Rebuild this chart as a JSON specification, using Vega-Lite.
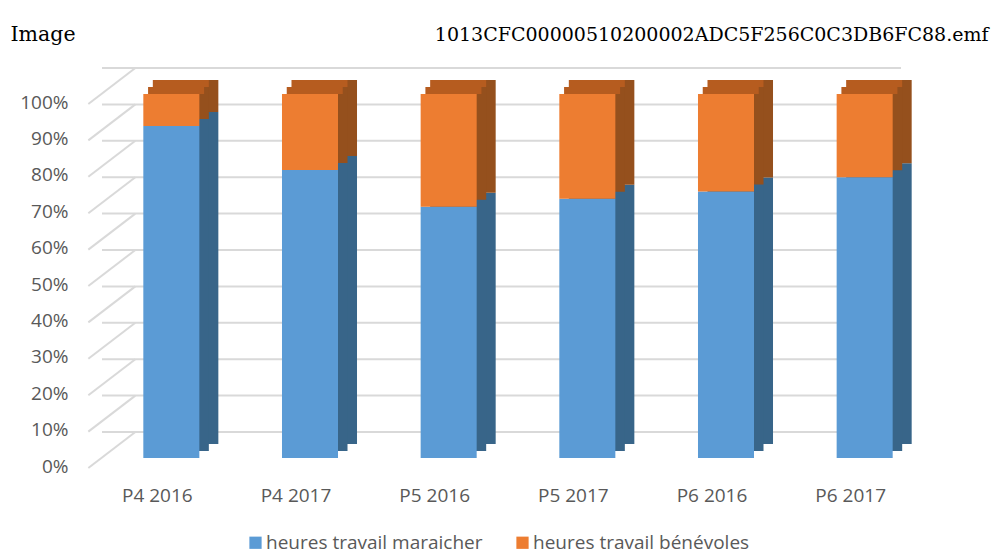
{
  "$schema": "https://vega.github.io/schema/vega-lite/v6.json",
  "width": 832,
  "height": 364,
  "autosize": {"type": "none"},
  "padding": {"left": 102, "top": 94, "right": 61, "bottom": 96},
  "background": "white",
  "config": {
    "view": {"stroke": null},
    "font": "Open Sans",
    "axisY": {"labelOverlap": false, "grid": false, "domain": false, "ticks": false, "tickSize": 0},
    "axisX": {"labelAlign": "center", "labelOverlap": false, "grid": false, "domain": false, "ticks": false, "tickSize": 0}
  },
  "datasets": {
    "bars": [
      {"cat": "P4 2016", "serie": "heures travail maraicher", "v": 0.912, "o": 1},
      {"cat": "P4 2016", "serie": "heures travail bénévoles", "v": 0.088, "o": 2},
      {"cat": "P4 2017", "serie": "heures travail maraicher", "v": 0.791, "o": 1},
      {"cat": "P4 2017", "serie": "heures travail bénévoles", "v": 0.209, "o": 2},
      {"cat": "P5 2016", "serie": "heures travail maraicher", "v": 0.69, "o": 1},
      {"cat": "P5 2016", "serie": "heures travail bénévoles", "v": 0.31, "o": 2},
      {"cat": "P5 2017", "serie": "heures travail maraicher", "v": 0.712, "o": 1},
      {"cat": "P5 2017", "serie": "heures travail bénévoles", "v": 0.288, "o": 2},
      {"cat": "P6 2016", "serie": "heures travail maraicher", "v": 0.732, "o": 1},
      {"cat": "P6 2016", "serie": "heures travail bénévoles", "v": 0.268, "o": 2},
      {"cat": "P6 2017", "serie": "heures travail maraicher", "v": 0.771, "o": 1},
      {"cat": "P6 2017", "serie": "heures travail bénévoles", "v": 0.229, "o": 2}
    ],
    "grid": [
      {"g": 0}, {"g": 0.1}, {"g": 0.2}, {"g": 0.3}, {"g": 0.4}, {"g": 0.5},
      {"g": 0.6}, {"g": 0.7}, {"g": 0.8}, {"g": 0.9}, {"g": 1}
    ]
  },
  "layer": [
    {
      "data": {"name": "grid"},
      "mark": {"type": "rule", "color": "#d9d9d9", "strokeWidth": 2, "x2Offset": 34, "yOffset": -26, "strokeDash": [0, 33, 900, 10]},
      "encoding": {
        "y": {
          "field": "g",
          "type": "quantitative",
          "scale": {"domain": [0, 1]},
          "axis": {
            "values": [0, 0.1, 0.2, 0.3, 0.4, 0.5, 0.6, 0.7, 0.8, 0.9, 1],
            "format": ".0%",
            "labelOverlap": false,
            "labelSeparation": 0,
            "labelPadding": 34,
            "labelOffset": 8,
            "labelFontSize": 19,
            "labelColor": "#595959",
            "labelFont": "Open Sans",
            "title": "Image",
            "titleAngle": 0,
            "titleX": -92,
            "titleY": -54,
            "titleAlign": "left",
            "titleBaseline": "alphabetic",
            "titleFont": "DejaVu Serif",
            "titleFontSize": 20.5,
            "titleFontWeight": "normal",
            "titleColor": "#000000"
          }
        }
      }
    },
    {
      "data": {"name": "grid"},
      "mark": {"type": "rule", "color": "#d9d9d9", "strokeWidth": 2, "xOffset": -83, "x2Offset": -36, "yOffset": 10, "y2Offset": -26},
      "encoding": {
        "x": {"datum": "P4 2016"},
        "x2": {"datum": "P4 2016"},
        "y": {
          "field": "g",
          "type": "quantitative",
          "axis": {
            "values": [0, 0.1, 0.2, 0.3, 0.4, 0.5, 0.6, 0.7, 0.8, 0.9, 1],
            "format": ".0%",
            "labelOverlap": false,
            "labelSeparation": 0,
            "labelPadding": 34,
            "labelOffset": 8,
            "labelFontSize": 19,
            "labelColor": "#595959",
            "labelFont": "Open Sans",
            "title": "Image",
            "titleAngle": 0,
            "titleX": -92,
            "titleY": -54,
            "titleAlign": "left",
            "titleBaseline": "alphabetic",
            "titleFont": "DejaVu Serif",
            "titleFontSize": 20.5,
            "titleFontWeight": "normal",
            "titleColor": "#000000"
          }
        },
        "y2": {"field": "g"}
      }
    },
    {
      "data": {"name": "bars"},
      "mark": {"type": "bar", "xOffset": 19, "yOffset": -14, "y2Offset": -14},
      "encoding": {
        "x": {
          "field": "cat",
          "type": "nominal",
          "sort": null,
          "scale": {"paddingInner": 0.596, "paddingOuter": 0.298},
          "axis": {
            "title": "1013CFC00000510200002ADC5F256C0C3DB6FC88.emf",
            "titleX": 886,
            "titleY": -418,
            "titleAlign": "right",
            "titleAnchor": "end",
            "titleBaseline": "alphabetic",
            "titleFont": "DejaVu Serif",
            "titleFontSize": 19,
            "titleFontWeight": "normal",
            "titleColor": "#000000",
            "labelAngle": 0,
            "labelAlign": "center",
            "labelFont": "Open Sans",
            "labelFontSize": 19,
            "labelColor": "#595959",
            "labelOffset": -14,
            "labelPadding": 37,
            "labelBaseline": "middle"
          }
        },
        "y": {
          "field": "v",
          "type": "quantitative",
          "stack": "zero",
          "axis": {
            "values": [0, 0.1, 0.2, 0.3, 0.4, 0.5, 0.6, 0.7, 0.8, 0.9, 1],
            "format": ".0%",
            "labelOverlap": false,
            "labelSeparation": 0,
            "labelPadding": 34,
            "labelOffset": 8,
            "labelFontSize": 19,
            "labelColor": "#595959",
            "labelFont": "Open Sans",
            "title": "Image",
            "titleAngle": 0,
            "titleX": -92,
            "titleY": -54,
            "titleAlign": "left",
            "titleBaseline": "alphabetic",
            "titleFont": "DejaVu Serif",
            "titleFontSize": 20.5,
            "titleFontWeight": "normal",
            "titleColor": "#000000"
          }
        },
        "order": {"field": "o"},
        "color": {
          "field": "serie",
          "type": "nominal",
          "scale": {"domain": ["heures travail maraicher", "heures travail bénévoles"], "range": ["#386589", "#95501D"]},
          "legend": null
        }
      }
    },
    {
      "data": {"name": "bars"},
      "mark": {"type": "bar", "xOffset": 9.5, "yOffset": -7, "y2Offset": -7},
      "encoding": {
        "x": {"field": "cat", "type": "nominal", "sort": null},
        "y": {
          "field": "v",
          "type": "quantitative",
          "stack": "zero",
          "axis": {
            "values": [0, 0.1, 0.2, 0.3, 0.4, 0.5, 0.6, 0.7, 0.8, 0.9, 1],
            "format": ".0%",
            "labelOverlap": false,
            "labelSeparation": 0,
            "labelPadding": 34,
            "labelOffset": 8,
            "labelFontSize": 19,
            "labelColor": "#595959",
            "labelFont": "Open Sans",
            "title": "Image",
            "titleAngle": 0,
            "titleX": -92,
            "titleY": -54,
            "titleAlign": "left",
            "titleBaseline": "alphabetic",
            "titleFont": "DejaVu Serif",
            "titleFontSize": 20.5,
            "titleFontWeight": "normal",
            "titleColor": "#000000"
          }
        },
        "order": {"field": "o"},
        "color": {
          "field": "serie",
          "type": "nominal",
          "scale": {"domain": ["heures travail maraicher", "heures travail bénévoles"], "range": ["#386589", "#95501D"]},
          "legend": null
        }
      }
    },
    {
      "data": {"name": "bars"},
      "transform": [{"filter": "datum.o == 2"}],
      "mark": {"type": "bar", "color": "#B65C1F", "xOffset": 9.5, "yOffset": -14, "y2Offset": -7},
      "encoding": {
        "x": {"field": "cat", "type": "nominal", "sort": null},
        "y": {
          "datum": 1,
          "axis": {
            "values": [0, 0.1, 0.2, 0.3, 0.4, 0.5, 0.6, 0.7, 0.8, 0.9, 1],
            "format": ".0%",
            "labelOverlap": false,
            "labelSeparation": 0,
            "labelPadding": 34,
            "labelOffset": 8,
            "labelFontSize": 19,
            "labelColor": "#595959",
            "labelFont": "Open Sans",
            "title": "Image",
            "titleAngle": 0,
            "titleX": -92,
            "titleY": -54,
            "titleAlign": "left",
            "titleBaseline": "alphabetic",
            "titleFont": "DejaVu Serif",
            "titleFontSize": 20.5,
            "titleFontWeight": "normal",
            "titleColor": "#000000"
          }
        },
        "y2": {"datum": 1}
      }
    },
    {
      "data": {"name": "bars"},
      "transform": [{"filter": "datum.o == 2"}],
      "mark": {"type": "bar", "color": "#B65C1F", "xOffset": 4.75, "yOffset": -7, "y2Offset": 0},
      "encoding": {
        "x": {"field": "cat", "type": "nominal", "sort": null},
        "y": {
          "datum": 1,
          "axis": {
            "values": [0, 0.1, 0.2, 0.3, 0.4, 0.5, 0.6, 0.7, 0.8, 0.9, 1],
            "format": ".0%",
            "labelOverlap": false,
            "labelSeparation": 0,
            "labelPadding": 34,
            "labelOffset": 8,
            "labelFontSize": 19,
            "labelColor": "#595959",
            "labelFont": "Open Sans",
            "title": "Image",
            "titleAngle": 0,
            "titleX": -92,
            "titleY": -54,
            "titleAlign": "left",
            "titleBaseline": "alphabetic",
            "titleFont": "DejaVu Serif",
            "titleFontSize": 20.5,
            "titleFontWeight": "normal",
            "titleColor": "#000000"
          }
        },
        "y2": {"datum": 1}
      }
    },
    {
      "data": {"name": "bars"},
      "mark": {"type": "bar"},
      "encoding": {
        "x": {"field": "cat", "type": "nominal", "sort": null},
        "y": {
          "field": "v",
          "type": "quantitative",
          "stack": "zero",
          "axis": {
            "values": [0, 0.1, 0.2, 0.3, 0.4, 0.5, 0.6, 0.7, 0.8, 0.9, 1],
            "format": ".0%",
            "labelOverlap": false,
            "labelSeparation": 0,
            "labelPadding": 34,
            "labelOffset": 8,
            "labelFontSize": 19,
            "labelColor": "#595959",
            "labelFont": "Open Sans",
            "title": "Image",
            "titleAngle": 0,
            "titleX": -92,
            "titleY": -54,
            "titleAlign": "left",
            "titleBaseline": "alphabetic",
            "titleFont": "DejaVu Serif",
            "titleFontSize": 20.5,
            "titleFontWeight": "normal",
            "titleColor": "#000000"
          }
        },
        "order": {"field": "o"},
        "color": {
          "field": "serie",
          "type": "nominal",
          "scale": {"domain": ["heures travail maraicher", "heures travail bénévoles"], "range": ["#5B9BD5", "#ED7D31"]},
          "legend": {
            "orient": "none",
            "legendX": 144,
            "legendY": 439,
            "direction": "horizontal",
            "title": null,
            "symbolType": "square",
            "symbolSize": 150,
            "symbolStrokeWidth": 0,
            "labelFont": "Open Sans",
            "labelFontSize": 19,
            "labelColor": "#595959",
            "labelOffset": 1,
            "labelLimit": 0,
            "columnPadding": 30,
            "padding": 0
          }
        }
      }
    }
  ],
  "resolve": {"scale": {"color": "independent"}}
}
